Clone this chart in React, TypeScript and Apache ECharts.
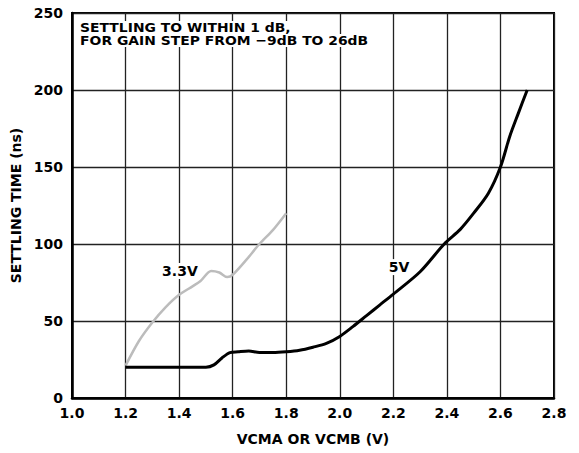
import React, { useEffect, useRef } from "react";
import * as echarts from "echarts";

const xTicks = [1.0, 1.2, 1.4, 1.6, 1.8, 2.0, 2.2, 2.4, 2.6, 2.8];
const yTicks = [0, 50, 100, 150, 200, 250];

const vcm5V = [1.2, 1.3, 1.4, 1.5, 1.53, 1.56, 1.59, 1.62, 1.66, 1.7, 1.75, 1.8, 1.85, 1.9, 1.95, 2.0, 2.05, 2.1, 2.15, 2.2, 2.3, 2.39, 2.45, 2.5, 2.555, 2.6, 2.635, 2.667, 2.7];
const time5V = [20, 20, 20, 20, 21.5, 26, 29.5, 30, 30.5, 29.5, 29.5, 30, 31, 33, 35.5, 40, 46.5, 53.5, 60.5, 67.5, 82, 100, 109.5, 120, 133, 150, 170, 185, 200];

const vcm33V = [1.2, 1.25, 1.3, 1.35, 1.4, 1.45, 1.48, 1.52, 1.55, 1.58, 1.6, 1.65, 1.7, 1.75, 1.8];
const time33V = [21, 37, 49, 59, 67, 72.5, 76, 82.5, 81.5, 78.5, 80, 89.5, 100, 109, 120];

const noteLines = ["SETTLING TO WITHIN 1 dB,", "FOR GAIN STEP FROM \u22129dB TO 26dB"];
const seriesNames = ["3.3V", "5V"];
const labelPos33 = [1.403, 82.5];
const labelPos5 = [2.221, 85];

const FONT = '"DejaVu Sans", "Liberation Sans", Arial, sans-serif';

export default function App() {
  const ref = useRef<HTMLDivElement>(null);
  useEffect(() => {
    if (!ref.current) return;
    const chart = echarts.init(ref.current, undefined, { renderer: "svg" });
    const pair = (xs: number[], ys: number[]) => xs.map((x, i) => [x, ys[i]]);
    const labelStyle = {
      show: true,
      color: "#000",
      fontFamily: FONT,
      fontWeight: "bold" as const,
      fontSize: 14,
      backgroundColor: "#fff",
      padding: [1, 1],
      position: "inside" as const,
    };
    chart.setOption({
      animation: false,
      backgroundColor: "#fff",
      grid: {
        left: 72,
        right: 25,
        top: 13,
        bottom: 55,
        show: true,
        borderColor: "#000",
        borderWidth: 2,
        backgroundColor: "transparent",
      },
      xAxis: {
        type: "value",
        min: xTicks[0],
        max: xTicks[xTicks.length - 1],
        interval: 0.2,
        name: "VCMA OR VCMB (V)",
        nameLocation: "middle",
        nameGap: 34,
        nameTextStyle: { fontFamily: FONT, fontWeight: "bold", fontSize: 14, color: "#000" },
        axisLine: { show: true, lineStyle: { color: "#000", width: 2.5 } },
        axisTick: { show: false },
        axisLabel: {
          fontFamily: FONT,
          fontWeight: "bold",
          fontSize: 14,
          color: "#000",
          margin: 8,
          formatter: (v: number) => v.toFixed(1),
        },
        splitLine: { show: true, lineStyle: { color: "#222", width: 1.3 } },
      },
      yAxis: {
        type: "value",
        min: yTicks[0],
        max: yTicks[yTicks.length - 1],
        interval: 50,
        name: "SETTLING TIME (ns)",
        nameLocation: "middle",
        nameGap: 40,
        nameTextStyle: { fontFamily: FONT, fontWeight: "bold", fontSize: 14, color: "#000" },
        axisLine: { show: true, lineStyle: { color: "#000", width: 2.5 } },
        axisTick: { show: false },
        axisLabel: {
          fontFamily: FONT,
          fontWeight: "bold",
          fontSize: 14,
          color: "#000",
          margin: 9,
        },
        splitLine: { show: true, lineStyle: { color: "#222", width: 1.3 } },
      },
      series: [
        {
          name: seriesNames[0],
          type: "line",
          data: pair(vcm33V, time33V),
          showSymbol: false,
          smooth: 0.3,
          lineStyle: { color: "#bcbcbc", width: 2.5 },
          z: 3,
          markPoint: {
            symbol: "rect",
            symbolSize: 0,
            data: [{ coord: labelPos33, label: { ...labelStyle, formatter: seriesNames[0] } }],
          },
        },
        {
          name: seriesNames[1],
          type: "line",
          data: pair(vcm5V, time5V),
          showSymbol: false,
          smooth: 0.3,
          lineStyle: { color: "#000", width: 3 },
          z: 4,
          markPoint: {
            symbol: "rect",
            symbolSize: 0,
            data: [{ coord: labelPos5, label: { ...labelStyle, formatter: seriesNames[1] } }],
          },
        },
      ],
      graphic: noteLines.map((t, i) => ({
        type: "text",
        x: 79,
        y: 21 + i * 13,
        scaleX: 1.07,
        z: 10,
        style: {
          text: t,
          fill: "#000",
          font: `bold 13px ${FONT}`,
          backgroundColor: "#fff",
          padding: [0, 1],
          lineHeight: 13,
        },
      })),
    });
    return () => chart.dispose();
  }, []);
  return <div ref={ref} style={{ position: "fixed", left: 0, top: 0, width: 579, height: 453 }} />;
}
